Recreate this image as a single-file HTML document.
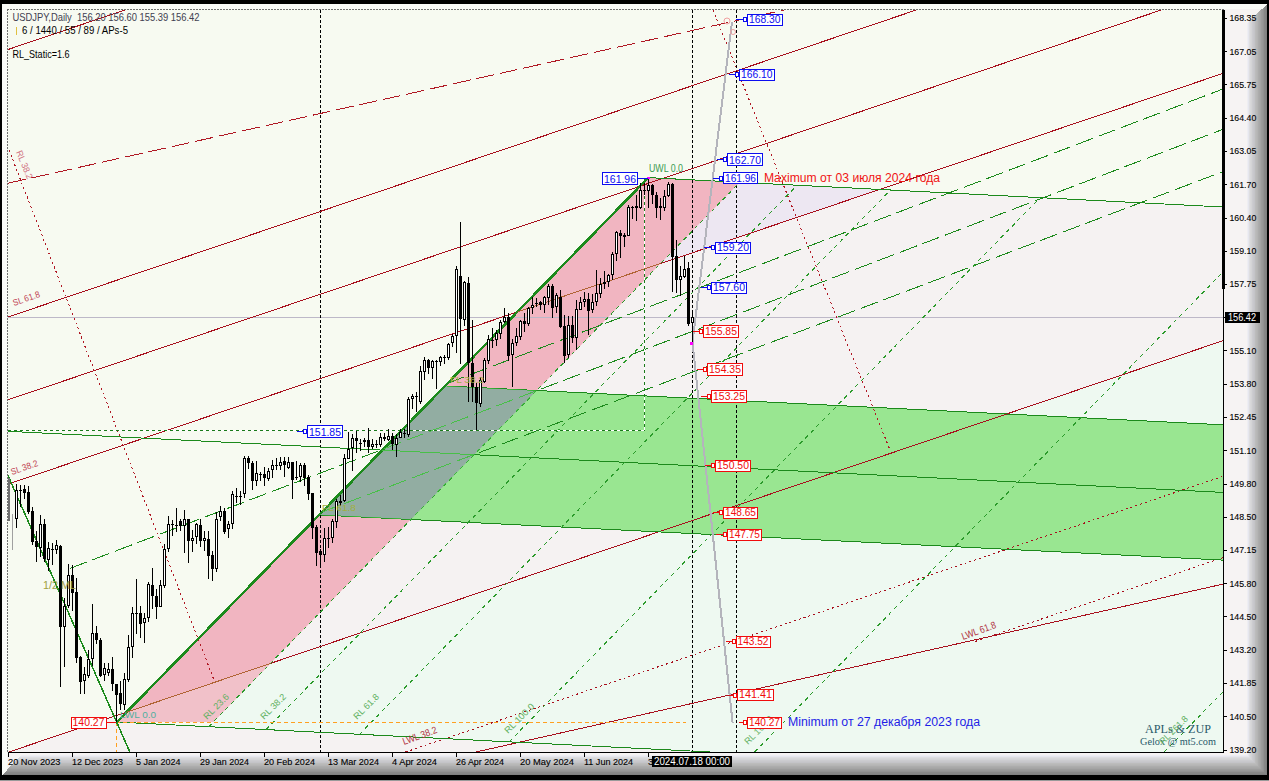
<!DOCTYPE html>
<html><head><meta charset="utf-8"><style>html,body{margin:0;padding:0;background:#f7faf1;width:1269px;height:781px;overflow:hidden}</style></head>
<body>
<svg width="1269" height="781" viewBox="0 0 1269 781" style="display:block"><defs>
<linearGradient id="gR" x1="0" y1="0" x2="1" y2="0">
<stop offset="0" stop-color="#f2f2f0"/><stop offset="0.25" stop-color="#d8d8da"/><stop offset="0.55" stop-color="#b4b4b8"/><stop offset="0.8" stop-color="#9c9c9e"/><stop offset="1" stop-color="#888888"/>
</linearGradient>
<linearGradient id="gB" x1="0" y1="0" x2="0" y2="1">
<stop offset="0" stop-color="#f0f2ee"/><stop offset="0.25" stop-color="#d4d4d6"/><stop offset="0.5" stop-color="#bcbcc4"/><stop offset="0.75" stop-color="#a0a0a0"/><stop offset="1" stop-color="#7c7c7c"/>
</linearGradient>
</defs><rect x="0" y="0" width="1269" height="781" fill="#f7faf1"/><polygon points="879.7,189.4 660.7,263.5 270.5,663.4 1223.0,340.7 1223.0,207.0 879.7,189.4" fill="#f5f2f2" />
<polygon points="270.5,663.4 208.7,726.7 710.1,752.0 1223.0,752.0 1223.0,340.7 270.5,663.4" fill="#eef9f1" />
<polygon points="710.1,752.0 116.0,722.0 116.0,752.0 710.1,752.0" fill="#f5f2f2" />
<polygon points="8.9,752.0 116.0,752.0 116.0,715.7 8.9,752.0" fill="#f5f2f2" />
<polygon points="879.7,189.4 739.8,182.3 660.7,263.5 879.7,189.4" fill="#ede7f2" />
<polygon points="117.0,722.0 213.3,722.0 739.8,182.3 648.4,177.6 117.0,722.0" fill="#f1b5c1" />
<polygon points="213.3,722.0 270.5,663.4 126.6,712.1 117.0,722.0 213.3,722.0" fill="#f1c1c9" />
<polygon points="445.0,385.9 319.2,514.9 1223.0,560.1 1223.0,424.8 445.0,385.9" fill="#99e691" />
<polygon points="319.2,514.9 410.9,519.5 536.7,390.5 445.0,385.9 319.2,514.9" fill="#92ada2" />
<g shape-rendering="crispEdges"><line x1="8.0" y1="317.5" x2="1223.0" y2="317.5" stroke="#bdb8c8" stroke-width="1" stroke-opacity="1"/>
<line x1="320.5" y1="10.0" x2="320.5" y2="752.0" stroke="#000000" stroke-width="1" stroke-dasharray="3,2" stroke-opacity="1"/>
<line x1="692.5" y1="10.0" x2="692.5" y2="752.0" stroke="#000000" stroke-width="1" stroke-dasharray="3,2" stroke-opacity="1"/>
<line x1="736.5" y1="10.0" x2="736.5" y2="752.0" stroke="#000000" stroke-width="1" stroke-dasharray="3,2" stroke-opacity="1"/>
<line x1="8.0" y1="49.5" x2="124.9" y2="10.0" stroke="#a8101e" stroke-width="1" stroke-opacity="1"/>
<line x1="8.0" y1="317.0" x2="916.3" y2="10.0" stroke="#a8101e" stroke-width="1" stroke-opacity="1"/>
<line x1="8.0" y1="399.8" x2="1161.3" y2="10.0" stroke="#a8101e" stroke-width="1" stroke-opacity="1"/>
<line x1="8.0" y1="484.1" x2="1223.0" y2="73.4" stroke="#a8101e" stroke-width="1" stroke-opacity="1"/>
<line x1="8.9" y1="752.0" x2="1223.0" y2="340.7" stroke="#a8101e" stroke-width="1" stroke-opacity="1"/>
<line x1="476.0" y1="752.0" x2="1223.0" y2="584.1" stroke="#a8101e" stroke-width="1" stroke-opacity="1"/>
<line x1="8.0" y1="183.2" x2="784.0" y2="10.0" stroke="#b01824" stroke-width="1" stroke-dasharray="18,6" stroke-opacity="1"/>
<line x1="405.6" y1="752.0" x2="1223.0" y2="476.3" stroke="#a8101e" stroke-width="1" stroke-dasharray="2,3" stroke-opacity="1"/>
<line x1="975.0" y1="641.5" x2="1223.0" y2="557.7" stroke="#a8101e" stroke-width="1" stroke-dasharray="2,3" stroke-opacity="1"/>
<line x1="9.0" y1="150.0" x2="214.0" y2="680.0" stroke="#b01824" stroke-width="1" stroke-dasharray="2,3" stroke-opacity="1"/>
<line x1="713.0" y1="10.0" x2="890.0" y2="450.0" stroke="#b01824" stroke-width="1" stroke-dasharray="2,3" stroke-opacity="1"/>
<line x1="8.0" y1="431.3" x2="1223.0" y2="492.4" stroke="#1c8a1c" stroke-width="1" stroke-opacity="1"/>
<line x1="445.0" y1="385.9" x2="1223.0" y2="424.8" stroke="#1c8a1c" stroke-width="1" stroke-opacity="1"/>
<line x1="319.0" y1="514.9" x2="1223.0" y2="560.1" stroke="#1c8a1c" stroke-width="1" stroke-opacity="1"/>
<line x1="648.0" y1="177.6" x2="1223.0" y2="207.0" stroke="#1c8a1c" stroke-width="1" stroke-opacity="1"/>
<line x1="116.0" y1="722.0" x2="710.1" y2="752.0" stroke="#1c8a1c" stroke-width="1" stroke-opacity="1"/>
<line x1="447.7" y1="383.2" x2="1223.0" y2="89.0" stroke="#1c8a1c" stroke-width="1" stroke-dasharray="18,6" stroke-opacity="1"/>
<line x1="70.0" y1="568.4" x2="1223.0" y2="129.3" stroke="#1c8a1c" stroke-width="1" stroke-dasharray="18,6" stroke-opacity="1"/>
<line x1="322.0" y1="512.0" x2="1223.0" y2="171.6" stroke="#1c8a1c" stroke-width="1" stroke-dasharray="18,6" stroke-opacity="1"/>
<line x1="208.7" y1="726.7" x2="739.8" y2="182.3" stroke="#2a9a2a" stroke-width="1" stroke-dasharray="4,4" stroke-opacity="1"/>
<line x1="266.1" y1="729.6" x2="797.2" y2="185.2" stroke="#2a9a2a" stroke-width="1" stroke-dasharray="4,4" stroke-opacity="1"/>
<line x1="359.5" y1="734.3" x2="890.5" y2="190.0" stroke="#2a9a2a" stroke-width="1" stroke-dasharray="4,4" stroke-opacity="1"/>
<line x1="509.1" y1="741.9" x2="1040.1" y2="197.6" stroke="#2a9a2a" stroke-width="1" stroke-dasharray="4,4" stroke-opacity="1"/>
<line x1="754.7" y1="752.0" x2="1223.0" y2="272.0" stroke="#2a9a2a" stroke-width="1" stroke-dasharray="4,4" stroke-opacity="1"/>
<line x1="1164.2" y1="752.0" x2="1223.0" y2="691.8" stroke="#2a9a2a" stroke-width="1" stroke-dasharray="4,4" stroke-opacity="1"/>
<line x1="8.0" y1="430.5" x2="645.0" y2="430.5" stroke="#ffffff" stroke-width="1" stroke-opacity="1"/>
<line x1="644.5" y1="178.0" x2="644.5" y2="431.0" stroke="#ffffff" stroke-width="1" stroke-opacity="1"/>
<line x1="8.0" y1="430.5" x2="645.0" y2="430.5" stroke="#1a7a1a" stroke-width="1" stroke-dasharray="3,3" stroke-opacity="1"/>
<line x1="644.5" y1="178.0" x2="644.5" y2="431.0" stroke="#1a7a1a" stroke-width="1" stroke-dasharray="3,3" stroke-opacity="1"/>
<line x1="116.0" y1="722.5" x2="686.0" y2="722.5" stroke="#ffa020" stroke-width="1" stroke-dasharray="4,3" stroke-opacity="1"/>
<line x1="116.5" y1="722.0" x2="116.5" y2="752.0" stroke="#ffa020" stroke-width="1" stroke-dasharray="4,3" stroke-opacity="1"/>
<line x1="8.0" y1="475.6" x2="129.8" y2="752.0" stroke="#1c8a1c" stroke-width="1.5" stroke-opacity="1"/>
<line x1="116.5" y1="722.5" x2="648.0" y2="178.0" stroke="#1c8a1c" stroke-width="2.5" stroke-opacity="1"/>
<line x1="692.5" y1="342.0" x2="732.0" y2="22.0" stroke="#b4b4bc" stroke-width="2" stroke-opacity="1"/>
<line x1="692.5" y1="342.0" x2="732.6" y2="722.8" stroke="#b4b4bc" stroke-width="2" stroke-opacity="1"/>
</g><clipPath id="cpPink"><polygon points="117.0,722.0 213.3,722.0 739.8,182.3 648.4,177.6 117.0,722.0"/></clipPath><clipPath id="cpOv"><polygon points="319.2,514.9 410.9,519.5 536.7,390.5 445.0,385.9 319.2,514.9"/></clipPath><g shape-rendering="crispEdges" clip-path="url(#cpOv)"><line x1="8.0" y1="431.3" x2="1223.0" y2="492.4" stroke="#48c048" stroke-width="1" stroke-opacity="1"/>
<line x1="445.0" y1="385.9" x2="1223.0" y2="424.8" stroke="#48c048" stroke-width="1" stroke-opacity="1"/>
<line x1="319.0" y1="514.9" x2="1223.0" y2="560.1" stroke="#48c048" stroke-width="1" stroke-opacity="1"/>
<line x1="648.0" y1="177.6" x2="1223.0" y2="207.0" stroke="#48c048" stroke-width="1" stroke-opacity="1"/>
<line x1="116.0" y1="722.0" x2="710.1" y2="752.0" stroke="#48c048" stroke-width="1" stroke-opacity="1"/>
<line x1="447.7" y1="383.2" x2="1223.0" y2="89.0" stroke="#48c048" stroke-width="1" stroke-dasharray="18,6" stroke-opacity="1"/>
<line x1="70.0" y1="568.4" x2="1223.0" y2="129.3" stroke="#48c048" stroke-width="1" stroke-dasharray="18,6" stroke-opacity="1"/>
<line x1="322.0" y1="512.0" x2="1223.0" y2="171.6" stroke="#48c048" stroke-width="1" stroke-dasharray="18,6" stroke-opacity="1"/>
<line x1="208.7" y1="726.7" x2="739.8" y2="182.3" stroke="#48c048" stroke-width="1" stroke-dasharray="4,4" stroke-opacity="1"/>
<line x1="266.1" y1="729.6" x2="797.2" y2="185.2" stroke="#48c048" stroke-width="1" stroke-dasharray="4,4" stroke-opacity="1"/>
<line x1="359.5" y1="734.3" x2="890.5" y2="190.0" stroke="#48c048" stroke-width="1" stroke-dasharray="4,4" stroke-opacity="1"/>
<line x1="509.1" y1="741.9" x2="1040.1" y2="197.6" stroke="#48c048" stroke-width="1" stroke-dasharray="4,4" stroke-opacity="1"/>
<line x1="754.7" y1="752.0" x2="1223.0" y2="272.0" stroke="#48c048" stroke-width="1" stroke-dasharray="4,4" stroke-opacity="1"/>
<line x1="1164.2" y1="752.0" x2="1223.0" y2="691.8" stroke="#48c048" stroke-width="1" stroke-dasharray="4,4" stroke-opacity="1"/>
<line x1="8.0" y1="475.6" x2="129.8" y2="752.0" stroke="#48c048" stroke-width="1.5" stroke-opacity="1"/>
</g><g shape-rendering="crispEdges" clip-path="url(#cpPink)"><line x1="8.0" y1="484.1" x2="1223.0" y2="73.4" stroke="#b06434" stroke-width="1" stroke-opacity="1"/>
<line x1="8.9" y1="752.0" x2="1223.0" y2="340.7" stroke="#b06434" stroke-width="1" stroke-opacity="1"/>
</g><g shape-rendering="crispEdges"><rect x="16" y="484" width="1" height="44" fill="#000"/><rect x="15" y="490" width="3" height="29" fill="#000"/><rect x="16" y="490" width="1" height="27" transform="translate(0,1)" fill="#fff"/><rect x="20" y="485" width="1" height="22" fill="#000"/><rect x="19" y="490" width="3" height="1" fill="#000"/><rect x="24" y="485" width="1" height="14" fill="#000"/><rect x="23" y="489" width="3" height="4" fill="#000"/><rect x="28" y="486" width="1" height="28" fill="#000"/><rect x="27" y="492" width="3" height="20" fill="#000"/><rect x="32" y="507" width="1" height="38" fill="#000"/><rect x="31" y="511" width="3" height="31" fill="#000"/><rect x="36" y="531" width="1" height="31" fill="#000"/><rect x="35" y="541" width="3" height="6" fill="#000"/><rect x="40" y="515" width="1" height="42" fill="#000"/><rect x="39" y="524" width="3" height="24" fill="#000"/><rect x="40" y="524" width="1" height="22" transform="translate(0,1)" fill="#fff"/><rect x="44" y="519" width="1" height="43" fill="#000"/><rect x="43" y="524" width="3" height="35" fill="#000"/><rect x="48" y="542" width="1" height="29" fill="#000"/><rect x="47" y="548" width="3" height="12" fill="#000"/><rect x="48" y="548" width="1" height="10" transform="translate(0,1)" fill="#fff"/><rect x="52" y="543" width="1" height="22" fill="#000"/><rect x="51" y="549" width="3" height="1" fill="#000"/><rect x="56" y="540" width="1" height="14" fill="#000"/><rect x="55" y="545" width="3" height="5" fill="#000"/><rect x="56" y="545" width="1" height="3" transform="translate(0,1)" fill="#fff"/><rect x="60" y="545" width="1" height="142" fill="#000"/><rect x="59" y="546" width="3" height="81" fill="#000"/><rect x="64" y="598" width="1" height="69" fill="#000"/><rect x="63" y="606" width="3" height="21" fill="#000"/><rect x="64" y="606" width="1" height="19" transform="translate(0,1)" fill="#fff"/><rect x="68" y="564" width="1" height="44" fill="#000"/><rect x="67" y="575" width="3" height="31" fill="#000"/><rect x="68" y="575" width="1" height="29" transform="translate(0,1)" fill="#fff"/><rect x="72" y="565" width="1" height="46" fill="#000"/><rect x="71" y="575" width="3" height="18" fill="#000"/><rect x="76" y="578" width="1" height="85" fill="#000"/><rect x="75" y="592" width="3" height="66" fill="#000"/><rect x="80" y="656" width="1" height="38" fill="#000"/><rect x="79" y="657" width="3" height="25" fill="#000"/><rect x="84" y="667" width="1" height="27" fill="#000"/><rect x="83" y="674" width="3" height="7" fill="#000"/><rect x="84" y="674" width="1" height="5" transform="translate(0,1)" fill="#fff"/><rect x="88" y="650" width="1" height="28" fill="#000"/><rect x="87" y="659" width="3" height="17" fill="#000"/><rect x="88" y="659" width="1" height="15" transform="translate(0,1)" fill="#fff"/><rect x="92" y="604" width="1" height="62" fill="#000"/><rect x="91" y="633" width="3" height="26" fill="#000"/><rect x="92" y="633" width="1" height="24" transform="translate(0,1)" fill="#fff"/><rect x="96" y="626" width="1" height="18" fill="#000"/><rect x="95" y="633" width="3" height="7" fill="#000"/><rect x="100" y="638" width="1" height="39" fill="#000"/><rect x="99" y="640" width="3" height="36" fill="#000"/><rect x="104" y="663" width="1" height="18" fill="#000"/><rect x="103" y="668" width="3" height="7" fill="#000"/><rect x="104" y="668" width="1" height="5" transform="translate(0,1)" fill="#fff"/><rect x="108" y="663" width="1" height="13" fill="#000"/><rect x="107" y="669" width="3" height="4" fill="#000"/><rect x="108" y="669" width="1" height="2" transform="translate(0,1)" fill="#fff"/><rect x="112" y="657" width="1" height="34" fill="#000"/><rect x="111" y="669" width="3" height="15" fill="#000"/><rect x="116" y="684" width="1" height="38" fill="#000"/><rect x="115" y="684" width="3" height="11" fill="#000"/><rect x="120" y="681" width="1" height="29" fill="#000"/><rect x="119" y="693" width="3" height="11" fill="#000"/><rect x="124" y="673" width="1" height="37" fill="#000"/><rect x="123" y="679" width="3" height="26" fill="#000"/><rect x="124" y="679" width="1" height="24" transform="translate(0,1)" fill="#fff"/><rect x="128" y="635" width="1" height="47" fill="#000"/><rect x="127" y="647" width="3" height="33" fill="#000"/><rect x="128" y="647" width="1" height="31" transform="translate(0,1)" fill="#fff"/><rect x="132" y="607" width="1" height="51" fill="#000"/><rect x="131" y="613" width="3" height="34" fill="#000"/><rect x="132" y="613" width="1" height="32" transform="translate(0,1)" fill="#fff"/><rect x="136" y="579" width="1" height="55" fill="#000"/><rect x="135" y="613" width="3" height="1" fill="#000"/><rect x="140" y="606" width="1" height="32" fill="#000"/><rect x="139" y="613" width="3" height="11" fill="#000"/><rect x="144" y="613" width="1" height="30" fill="#000"/><rect x="143" y="618" width="3" height="5" fill="#000"/><rect x="144" y="618" width="1" height="3" transform="translate(0,1)" fill="#fff"/><rect x="148" y="582" width="1" height="40" fill="#000"/><rect x="147" y="584" width="3" height="34" fill="#000"/><rect x="148" y="584" width="1" height="32" transform="translate(0,1)" fill="#fff"/><rect x="152" y="568" width="1" height="41" fill="#000"/><rect x="151" y="585" width="3" height="11" fill="#000"/><rect x="156" y="589" width="1" height="30" fill="#000"/><rect x="155" y="596" width="3" height="11" fill="#000"/><rect x="160" y="580" width="1" height="26" fill="#000"/><rect x="159" y="585" width="3" height="22" fill="#000"/><rect x="160" y="585" width="1" height="20" transform="translate(0,1)" fill="#fff"/><rect x="164" y="544" width="1" height="44" fill="#000"/><rect x="163" y="549" width="3" height="37" fill="#000"/><rect x="164" y="549" width="1" height="35" transform="translate(0,1)" fill="#fff"/><rect x="168" y="516" width="1" height="36" fill="#000"/><rect x="167" y="524" width="3" height="25" fill="#000"/><rect x="168" y="524" width="1" height="23" transform="translate(0,1)" fill="#fff"/><rect x="172" y="520" width="1" height="16" fill="#000"/><rect x="171" y="524" width="3" height="1" fill="#000"/><rect x="176" y="508" width="1" height="24" fill="#000"/><rect x="175" y="525" width="3" height="1" fill="#000"/><rect x="180" y="519" width="1" height="12" fill="#000"/><rect x="179" y="521" width="3" height="5" fill="#000"/><rect x="184" y="510" width="1" height="43" fill="#000"/><rect x="183" y="519" width="3" height="7" fill="#000"/><rect x="184" y="519" width="1" height="5" transform="translate(0,1)" fill="#fff"/><rect x="188" y="519" width="1" height="44" fill="#000"/><rect x="187" y="519" width="3" height="22" fill="#000"/><rect x="192" y="530" width="1" height="22" fill="#000"/><rect x="191" y="538" width="3" height="3" fill="#000"/><rect x="192" y="538" width="1" height="1" transform="translate(0,1)" fill="#fff"/><rect x="196" y="523" width="1" height="21" fill="#000"/><rect x="195" y="524" width="3" height="13" fill="#000"/><rect x="196" y="524" width="1" height="11" transform="translate(0,1)" fill="#fff"/><rect x="200" y="519" width="1" height="28" fill="#000"/><rect x="199" y="525" width="3" height="16" fill="#000"/><rect x="204" y="531" width="1" height="20" fill="#000"/><rect x="203" y="538" width="3" height="3" fill="#000"/><rect x="204" y="538" width="1" height="1" transform="translate(0,1)" fill="#fff"/><rect x="208" y="531" width="1" height="48" fill="#000"/><rect x="207" y="539" width="3" height="17" fill="#000"/><rect x="212" y="551" width="1" height="30" fill="#000"/><rect x="211" y="555" width="3" height="14" fill="#000"/><rect x="216" y="512" width="1" height="60" fill="#000"/><rect x="215" y="519" width="3" height="50" fill="#000"/><rect x="216" y="519" width="1" height="48" transform="translate(0,1)" fill="#fff"/><rect x="220" y="506" width="1" height="15" fill="#000"/><rect x="219" y="511" width="3" height="6" fill="#000"/><rect x="220" y="511" width="1" height="4" transform="translate(0,1)" fill="#fff"/><rect x="224" y="508" width="1" height="26" fill="#000"/><rect x="223" y="511" width="3" height="21" fill="#000"/><rect x="228" y="521" width="1" height="17" fill="#000"/><rect x="227" y="524" width="3" height="5" fill="#000"/><rect x="228" y="524" width="1" height="3" transform="translate(0,1)" fill="#fff"/><rect x="232" y="491" width="1" height="38" fill="#000"/><rect x="231" y="494" width="3" height="30" fill="#000"/><rect x="232" y="494" width="1" height="28" transform="translate(0,1)" fill="#fff"/><rect x="236" y="488" width="1" height="15" fill="#000"/><rect x="235" y="496" width="3" height="1" fill="#000"/><rect x="240" y="491" width="1" height="14" fill="#000"/><rect x="239" y="496" width="3" height="1" fill="#000"/><rect x="244" y="456" width="1" height="42" fill="#000"/><rect x="243" y="458" width="3" height="36" fill="#000"/><rect x="244" y="458" width="1" height="34" transform="translate(0,1)" fill="#fff"/><rect x="248" y="456" width="1" height="13" fill="#000"/><rect x="247" y="458" width="3" height="5" fill="#000"/><rect x="252" y="461" width="1" height="29" fill="#000"/><rect x="251" y="463" width="3" height="18" fill="#000"/><rect x="256" y="461" width="1" height="25" fill="#000"/><rect x="255" y="473" width="3" height="8" fill="#000"/><rect x="256" y="473" width="1" height="6" transform="translate(0,1)" fill="#fff"/><rect x="260" y="472" width="1" height="9" fill="#000"/><rect x="259" y="474" width="3" height="1" fill="#000"/><rect x="264" y="467" width="1" height="19" fill="#000"/><rect x="263" y="474" width="3" height="4" fill="#000"/><rect x="268" y="468" width="1" height="13" fill="#000"/><rect x="267" y="471" width="3" height="8" fill="#000"/><rect x="268" y="471" width="1" height="6" transform="translate(0,1)" fill="#fff"/><rect x="272" y="460" width="1" height="18" fill="#000"/><rect x="271" y="465" width="3" height="5" fill="#000"/><rect x="272" y="465" width="1" height="3" transform="translate(0,1)" fill="#fff"/><rect x="276" y="458" width="1" height="12" fill="#000"/><rect x="275" y="465" width="3" height="1" fill="#000"/><rect x="280" y="457" width="1" height="13" fill="#000"/><rect x="279" y="462" width="3" height="4" fill="#000"/><rect x="280" y="462" width="1" height="2" transform="translate(0,1)" fill="#fff"/><rect x="284" y="457" width="1" height="20" fill="#000"/><rect x="283" y="461" width="3" height="4" fill="#000"/><rect x="288" y="457" width="1" height="12" fill="#000"/><rect x="287" y="462" width="3" height="6" fill="#000"/><rect x="288" y="462" width="1" height="4" transform="translate(0,1)" fill="#fff"/><rect x="292" y="462" width="1" height="37" fill="#000"/><rect x="291" y="462" width="3" height="18" fill="#000"/><rect x="296" y="461" width="1" height="19" fill="#000"/><rect x="295" y="477" width="3" height="1" fill="#000"/><rect x="300" y="463" width="1" height="19" fill="#000"/><rect x="299" y="465" width="3" height="12" fill="#000"/><rect x="300" y="465" width="1" height="10" transform="translate(0,1)" fill="#fff"/><rect x="304" y="463" width="1" height="23" fill="#000"/><rect x="303" y="465" width="3" height="13" fill="#000"/><rect x="308" y="475" width="1" height="25" fill="#000"/><rect x="307" y="477" width="3" height="17" fill="#000"/><rect x="312" y="493" width="1" height="46" fill="#000"/><rect x="311" y="493" width="3" height="35" fill="#000"/><rect x="316" y="525" width="1" height="41" fill="#000"/><rect x="315" y="527" width="3" height="26" fill="#000"/><rect x="320" y="549" width="1" height="17" fill="#000"/><rect x="319" y="551" width="3" height="4" fill="#000"/><rect x="324" y="528" width="1" height="34" fill="#000"/><rect x="323" y="538" width="3" height="17" fill="#000"/><rect x="324" y="538" width="1" height="15" transform="translate(0,1)" fill="#fff"/><rect x="328" y="527" width="1" height="21" fill="#000"/><rect x="327" y="538" width="3" height="1" fill="#000"/><rect x="332" y="519" width="1" height="24" fill="#000"/><rect x="331" y="521" width="3" height="17" fill="#000"/><rect x="332" y="521" width="1" height="15" transform="translate(0,1)" fill="#fff"/><rect x="336" y="499" width="1" height="29" fill="#000"/><rect x="335" y="501" width="3" height="21" fill="#000"/><rect x="336" y="501" width="1" height="19" transform="translate(0,1)" fill="#fff"/><rect x="340" y="495" width="1" height="11" fill="#000"/><rect x="339" y="501" width="3" height="2" fill="#000"/><rect x="344" y="454" width="1" height="48" fill="#000"/><rect x="343" y="458" width="3" height="43" fill="#000"/><rect x="344" y="458" width="1" height="41" transform="translate(0,1)" fill="#fff"/><rect x="348" y="432" width="1" height="27" fill="#000"/><rect x="347" y="449" width="3" height="10" fill="#000"/><rect x="348" y="449" width="1" height="8" transform="translate(0,1)" fill="#fff"/><rect x="352" y="434" width="1" height="37" fill="#000"/><rect x="351" y="438" width="3" height="10" fill="#000"/><rect x="352" y="438" width="1" height="8" transform="translate(0,1)" fill="#fff"/><rect x="356" y="431" width="1" height="22" fill="#000"/><rect x="355" y="438" width="3" height="3" fill="#000"/><rect x="360" y="439" width="1" height="12" fill="#000"/><rect x="359" y="443" width="3" height="1" fill="#000"/><rect x="364" y="438" width="1" height="9" fill="#000"/><rect x="363" y="440" width="3" height="2" fill="#000"/><rect x="368" y="428" width="1" height="25" fill="#000"/><rect x="367" y="440" width="3" height="7" fill="#000"/><rect x="372" y="439" width="1" height="10" fill="#000"/><rect x="371" y="444" width="3" height="3" fill="#000"/><rect x="372" y="444" width="1" height="1" transform="translate(0,1)" fill="#fff"/><rect x="376" y="440" width="1" height="8" fill="#000"/><rect x="375" y="444" width="3" height="1" fill="#000"/><rect x="380" y="433" width="1" height="14" fill="#000"/><rect x="379" y="437" width="3" height="8" fill="#000"/><rect x="380" y="437" width="1" height="6" transform="translate(0,1)" fill="#fff"/><rect x="384" y="433" width="1" height="8" fill="#000"/><rect x="383" y="437" width="3" height="2" fill="#000"/><rect x="388" y="429" width="1" height="12" fill="#000"/><rect x="387" y="436" width="3" height="4" fill="#000"/><rect x="388" y="436" width="1" height="2" transform="translate(0,1)" fill="#fff"/><rect x="392" y="433" width="1" height="17" fill="#000"/><rect x="391" y="436" width="3" height="8" fill="#000"/><rect x="396" y="434" width="1" height="23" fill="#000"/><rect x="395" y="438" width="3" height="7" fill="#000"/><rect x="396" y="438" width="1" height="5" transform="translate(0,1)" fill="#fff"/><rect x="400" y="429" width="1" height="9" fill="#000"/><rect x="399" y="432" width="3" height="6" fill="#000"/><rect x="400" y="432" width="1" height="4" transform="translate(0,1)" fill="#fff"/><rect x="404" y="429" width="1" height="9" fill="#000"/><rect x="403" y="433" width="3" height="1" fill="#000"/><rect x="408" y="397" width="1" height="40" fill="#000"/><rect x="407" y="399" width="3" height="36" fill="#000"/><rect x="408" y="399" width="1" height="34" transform="translate(0,1)" fill="#fff"/><rect x="412" y="394" width="1" height="15" fill="#000"/><rect x="411" y="396" width="3" height="3" fill="#000"/><rect x="412" y="396" width="1" height="1" transform="translate(0,1)" fill="#fff"/><rect x="416" y="392" width="1" height="20" fill="#000"/><rect x="415" y="396" width="3" height="1" fill="#000"/><rect x="420" y="366" width="1" height="38" fill="#000"/><rect x="419" y="371" width="3" height="31" fill="#000"/><rect x="420" y="371" width="1" height="29" transform="translate(0,1)" fill="#fff"/><rect x="424" y="357" width="1" height="23" fill="#000"/><rect x="423" y="360" width="3" height="12" fill="#000"/><rect x="424" y="360" width="1" height="10" transform="translate(0,1)" fill="#fff"/><rect x="428" y="359" width="1" height="15" fill="#000"/><rect x="427" y="360" width="3" height="8" fill="#000"/><rect x="432" y="360" width="1" height="19" fill="#000"/><rect x="431" y="361" width="3" height="7" fill="#000"/><rect x="432" y="361" width="1" height="5" transform="translate(0,1)" fill="#fff"/><rect x="436" y="360" width="1" height="29" fill="#000"/><rect x="435" y="361" width="3" height="1" fill="#000"/><rect x="440" y="356" width="1" height="10" fill="#000"/><rect x="439" y="357" width="3" height="5" fill="#000"/><rect x="440" y="357" width="1" height="3" transform="translate(0,1)" fill="#fff"/><rect x="444" y="355" width="1" height="9" fill="#000"/><rect x="443" y="357" width="3" height="1" fill="#000"/><rect x="448" y="343" width="1" height="17" fill="#000"/><rect x="447" y="344" width="3" height="14" fill="#000"/><rect x="448" y="344" width="1" height="12" transform="translate(0,1)" fill="#fff"/><rect x="452" y="334" width="1" height="13" fill="#000"/><rect x="451" y="336" width="3" height="7" fill="#000"/><rect x="452" y="336" width="1" height="5" transform="translate(0,1)" fill="#fff"/><rect x="456" y="266" width="1" height="87" fill="#000"/><rect x="455" y="269" width="3" height="67" fill="#000"/><rect x="456" y="269" width="1" height="65" transform="translate(0,1)" fill="#fff"/><rect x="460" y="222" width="1" height="142" fill="#000"/><rect x="459" y="276" width="3" height="43" fill="#000"/><rect x="464" y="281" width="1" height="45" fill="#000"/><rect x="463" y="282" width="3" height="38" fill="#000"/><rect x="464" y="282" width="1" height="36" transform="translate(0,1)" fill="#fff"/><rect x="468" y="277" width="1" height="125" fill="#000"/><rect x="467" y="283" width="3" height="80" fill="#000"/><rect x="472" y="320" width="1" height="82" fill="#000"/><rect x="471" y="363" width="3" height="24" fill="#000"/><rect x="476" y="383" width="1" height="47" fill="#000"/><rect x="475" y="387" width="3" height="16" fill="#000"/><rect x="480" y="377" width="1" height="30" fill="#000"/><rect x="479" y="380" width="3" height="24" fill="#000"/><rect x="480" y="380" width="1" height="22" transform="translate(0,1)" fill="#fff"/><rect x="484" y="358" width="1" height="25" fill="#000"/><rect x="483" y="360" width="3" height="22" fill="#000"/><rect x="484" y="360" width="1" height="20" transform="translate(0,1)" fill="#fff"/><rect x="488" y="335" width="1" height="29" fill="#000"/><rect x="487" y="339" width="3" height="22" fill="#000"/><rect x="488" y="339" width="1" height="20" transform="translate(0,1)" fill="#fff"/><rect x="492" y="328" width="1" height="20" fill="#000"/><rect x="491" y="340" width="3" height="1" fill="#000"/><rect x="496" y="330" width="1" height="16" fill="#000"/><rect x="495" y="333" width="3" height="7" fill="#000"/><rect x="496" y="333" width="1" height="5" transform="translate(0,1)" fill="#fff"/><rect x="500" y="320" width="1" height="19" fill="#000"/><rect x="499" y="322" width="3" height="12" fill="#000"/><rect x="500" y="322" width="1" height="10" transform="translate(0,1)" fill="#fff"/><rect x="504" y="308" width="1" height="15" fill="#000"/><rect x="503" y="317" width="3" height="5" fill="#000"/><rect x="504" y="317" width="1" height="3" transform="translate(0,1)" fill="#fff"/><rect x="508" y="313" width="1" height="48" fill="#000"/><rect x="507" y="317" width="3" height="39" fill="#000"/><rect x="512" y="339" width="1" height="48" fill="#000"/><rect x="511" y="343" width="3" height="12" fill="#000"/><rect x="512" y="343" width="1" height="10" transform="translate(0,1)" fill="#fff"/><rect x="516" y="328" width="1" height="18" fill="#000"/><rect x="515" y="336" width="3" height="7" fill="#000"/><rect x="516" y="336" width="1" height="5" transform="translate(0,1)" fill="#fff"/><rect x="520" y="320" width="1" height="20" fill="#000"/><rect x="519" y="321" width="3" height="16" fill="#000"/><rect x="520" y="321" width="1" height="14" transform="translate(0,1)" fill="#fff"/><rect x="524" y="313" width="1" height="19" fill="#000"/><rect x="523" y="321" width="3" height="3" fill="#000"/><rect x="528" y="307" width="1" height="19" fill="#000"/><rect x="527" y="308" width="3" height="16" fill="#000"/><rect x="528" y="308" width="1" height="14" transform="translate(0,1)" fill="#fff"/><rect x="532" y="297" width="1" height="17" fill="#000"/><rect x="531" y="305" width="3" height="3" fill="#000"/><rect x="532" y="305" width="1" height="1" transform="translate(0,1)" fill="#fff"/><rect x="536" y="298" width="1" height="9" fill="#000"/><rect x="535" y="303" width="3" height="1" fill="#000"/><rect x="540" y="301" width="1" height="9" fill="#000"/><rect x="539" y="302" width="3" height="3" fill="#000"/><rect x="544" y="296" width="1" height="17" fill="#000"/><rect x="543" y="297" width="3" height="8" fill="#000"/><rect x="544" y="297" width="1" height="6" transform="translate(0,1)" fill="#fff"/><rect x="548" y="284" width="1" height="21" fill="#000"/><rect x="547" y="286" width="3" height="12" fill="#000"/><rect x="548" y="286" width="1" height="10" transform="translate(0,1)" fill="#fff"/><rect x="552" y="284" width="1" height="34" fill="#000"/><rect x="551" y="286" width="3" height="22" fill="#000"/><rect x="556" y="293" width="1" height="20" fill="#000"/><rect x="555" y="295" width="3" height="12" fill="#000"/><rect x="556" y="295" width="1" height="10" transform="translate(0,1)" fill="#fff"/><rect x="560" y="290" width="1" height="38" fill="#000"/><rect x="559" y="297" width="3" height="30" fill="#000"/><rect x="564" y="315" width="1" height="48" fill="#000"/><rect x="563" y="326" width="3" height="30" fill="#000"/><rect x="568" y="316" width="1" height="42" fill="#000"/><rect x="567" y="325" width="3" height="30" fill="#000"/><rect x="568" y="325" width="1" height="28" transform="translate(0,1)" fill="#fff"/><rect x="572" y="316" width="1" height="27" fill="#000"/><rect x="571" y="325" width="3" height="13" fill="#000"/><rect x="576" y="300" width="1" height="50" fill="#000"/><rect x="575" y="309" width="3" height="29" fill="#000"/><rect x="576" y="309" width="1" height="27" transform="translate(0,1)" fill="#fff"/><rect x="580" y="297" width="1" height="13" fill="#000"/><rect x="579" y="302" width="3" height="8" fill="#000"/><rect x="580" y="302" width="1" height="6" transform="translate(0,1)" fill="#fff"/><rect x="584" y="292" width="1" height="15" fill="#000"/><rect x="583" y="299" width="3" height="3" fill="#000"/><rect x="584" y="299" width="1" height="1" transform="translate(0,1)" fill="#fff"/><rect x="588" y="293" width="1" height="42" fill="#000"/><rect x="587" y="299" width="3" height="12" fill="#000"/><rect x="592" y="294" width="1" height="19" fill="#000"/><rect x="591" y="302" width="3" height="8" fill="#000"/><rect x="592" y="302" width="1" height="6" transform="translate(0,1)" fill="#fff"/><rect x="596" y="270" width="1" height="36" fill="#000"/><rect x="595" y="293" width="3" height="9" fill="#000"/><rect x="596" y="293" width="1" height="7" transform="translate(0,1)" fill="#fff"/><rect x="600" y="278" width="1" height="20" fill="#000"/><rect x="599" y="284" width="3" height="10" fill="#000"/><rect x="600" y="284" width="1" height="8" transform="translate(0,1)" fill="#fff"/><rect x="604" y="271" width="1" height="18" fill="#000"/><rect x="603" y="282" width="3" height="2" fill="#000"/><rect x="608" y="274" width="1" height="13" fill="#000"/><rect x="607" y="275" width="3" height="7" fill="#000"/><rect x="608" y="275" width="1" height="5" transform="translate(0,1)" fill="#fff"/><rect x="612" y="252" width="1" height="28" fill="#000"/><rect x="611" y="254" width="3" height="21" fill="#000"/><rect x="612" y="254" width="1" height="19" transform="translate(0,1)" fill="#fff"/><rect x="616" y="231" width="1" height="30" fill="#000"/><rect x="615" y="232" width="3" height="22" fill="#000"/><rect x="616" y="232" width="1" height="20" transform="translate(0,1)" fill="#fff"/><rect x="620" y="230" width="1" height="28" fill="#000"/><rect x="619" y="233" width="3" height="3" fill="#000"/><rect x="624" y="233" width="1" height="14" fill="#000"/><rect x="623" y="235" width="3" height="2" fill="#000"/><rect x="628" y="205" width="1" height="31" fill="#000"/><rect x="627" y="207" width="3" height="29" fill="#000"/><rect x="628" y="207" width="1" height="27" transform="translate(0,1)" fill="#fff"/><rect x="632" y="206" width="1" height="13" fill="#000"/><rect x="631" y="207" width="3" height="1" fill="#000"/><rect x="636" y="195" width="1" height="26" fill="#000"/><rect x="635" y="206" width="3" height="2" fill="#000"/><rect x="640" y="183" width="1" height="26" fill="#000"/><rect x="639" y="190" width="3" height="18" fill="#000"/><rect x="640" y="190" width="1" height="16" transform="translate(0,1)" fill="#fff"/><rect x="644" y="183" width="1" height="12" fill="#000"/><rect x="643" y="190" width="3" height="1" fill="#000"/><rect x="648" y="178" width="1" height="30" fill="#000"/><rect x="647" y="185" width="3" height="6" fill="#000"/><rect x="648" y="185" width="1" height="4" transform="translate(0,1)" fill="#fff"/><rect x="652" y="184" width="1" height="20" fill="#000"/><rect x="651" y="185" width="3" height="10" fill="#000"/><rect x="656" y="192" width="1" height="26" fill="#000"/><rect x="655" y="195" width="3" height="13" fill="#000"/><rect x="660" y="198" width="1" height="22" fill="#000"/><rect x="659" y="206" width="3" height="2" fill="#000"/><rect x="664" y="190" width="1" height="21" fill="#000"/><rect x="663" y="196" width="3" height="12" fill="#000"/><rect x="664" y="196" width="1" height="10" transform="translate(0,1)" fill="#fff"/><rect x="668" y="182" width="1" height="15" fill="#000"/><rect x="667" y="184" width="3" height="12" fill="#000"/><rect x="668" y="184" width="1" height="10" transform="translate(0,1)" fill="#fff"/><rect x="672" y="183" width="1" height="109" fill="#000"/><rect x="671" y="184" width="3" height="73" fill="#000"/><rect x="676" y="240" width="1" height="53" fill="#000"/><rect x="675" y="256" width="3" height="24" fill="#000"/><rect x="680" y="266" width="1" height="30" fill="#000"/><rect x="679" y="276" width="3" height="4" fill="#000"/><rect x="680" y="276" width="1" height="2" transform="translate(0,1)" fill="#fff"/><rect x="684" y="256" width="1" height="22" fill="#000"/><rect x="683" y="269" width="3" height="8" fill="#000"/><rect x="684" y="269" width="1" height="6" transform="translate(0,1)" fill="#fff"/><rect x="688" y="262" width="1" height="64" fill="#000"/><rect x="687" y="268" width="3" height="56" fill="#000"/><rect x="692" y="313" width="1" height="30" fill="#000"/><rect x="691" y="317" width="3" height="6" fill="#000"/><rect x="692" y="317" width="1" height="4" transform="translate(0,1)" fill="#fff"/><rect x="8" y="478" width="2" height="43" fill="#707070"/><rect x="12" y="514" width="1" height="36" fill="#a0a0a0"/></g><text x="764" y="182" font-family="Liberation Sans, sans-serif" font-size="12.5" fill="#f01414" textLength="176" lengthAdjust="spacingAndGlyphs" >Maximum от 03 июля 2024 года</text>
<text x="788" y="726" font-family="Liberation Sans, sans-serif" font-size="12.5" fill="#1e1ee6" textLength="192" lengthAdjust="spacingAndGlyphs" >Minimum от 27 декабря 2023 года</text>
<text x="12.5" y="21" font-family="Liberation Sans, sans-serif" font-size="10.2" fill="#404050" textLength="187" lengthAdjust="spacingAndGlyphs" >USDJPY,Daily&#160;&#160;156.20 156.60 155.39 156.42</text>
<rect x="16" y="27" width="1" height="8" fill="#e0c040"/><text x="22" y="33.5" font-family="Liberation Sans, sans-serif" font-size="10.2" fill="#000" textLength="106" lengthAdjust="spacingAndGlyphs" >6 / 1440 / 55 / 89 / APs-5</text>
<text x="12.5" y="57.5" font-family="Liberation Sans, sans-serif" font-size="10.2" fill="#000" textLength="57" lengthAdjust="spacingAndGlyphs" >RL_Static=1.6</text>
<text x="649" y="171.5" font-family="Liberation Sans, sans-serif" font-size="10" fill="#3a9a50" textLength="34" lengthAdjust="spacingAndGlyphs" >UWL 0.0</text>
<text x="120" y="718" font-family="Liberation Sans, sans-serif" font-size="9" fill="#50b0a0" textLength="36" lengthAdjust="spacingAndGlyphs" >LWL 0.0</text>
<text x="1145" y="732.5"  font-size="12.5" fill="#2a5a6a" textLength="66" lengthAdjust="spacingAndGlyphs" font-family="Liberation Serif, serif">APLs &amp; ZUP</text>
<text x="1140" y="745"  font-size="10.5" fill="#2a5a6a" textLength="76" lengthAdjust="spacingAndGlyphs" font-family="Liberation Serif, serif">Gelox @ mt5.com</text>
<text x="0" y="0" transform="translate(14,306) rotate(-19)" font-family="Liberation Sans, sans-serif" font-size="9" fill="#c04050" textLength="28" lengthAdjust="spacingAndGlyphs">SL 61.8</text>
<text x="0" y="0" transform="translate(12,475) rotate(-19)" font-family="Liberation Sans, sans-serif" font-size="9" fill="#c04050" textLength="28" lengthAdjust="spacingAndGlyphs">SL 38.2</text>
<text x="0" y="0" transform="translate(16,152) rotate(68)" font-family="Liberation Sans, sans-serif" font-size="9" fill="#d07080" textLength="30" lengthAdjust="spacingAndGlyphs">RL 38.2</text>
<text x="0" y="0" transform="translate(404,745) rotate(-20)" font-family="Liberation Sans, sans-serif" font-size="10" fill="#b03040" textLength="36" lengthAdjust="spacingAndGlyphs">LWL 38.2</text>
<text x="0" y="0" transform="translate(963,640) rotate(-20)" font-family="Liberation Sans, sans-serif" font-size="10" fill="#b03040" textLength="36" lengthAdjust="spacingAndGlyphs">LWL 61.8</text>
<text x="0" y="0" transform="translate(207,720) rotate(-45)" font-family="Liberation Sans, sans-serif" font-size="9" fill="#60b060" textLength="32" lengthAdjust="spacingAndGlyphs">RL 23.6</text>
<text x="0" y="0" transform="translate(264,720) rotate(-45)" font-family="Liberation Sans, sans-serif" font-size="9" fill="#60b060" textLength="32" lengthAdjust="spacingAndGlyphs">RL 38.2</text>
<text x="0" y="0" transform="translate(357,720) rotate(-45)" font-family="Liberation Sans, sans-serif" font-size="9" fill="#60b060" textLength="32" lengthAdjust="spacingAndGlyphs">RL 61.8</text>
<text x="0" y="0" transform="translate(508,734) rotate(-45)" font-family="Liberation Sans, sans-serif" font-size="9" fill="#60b060" textLength="38" lengthAdjust="spacingAndGlyphs">RL 100.0</text>
<text x="0" y="0" transform="translate(748,745) rotate(-45)" font-family="Liberation Sans, sans-serif" font-size="9" fill="#60b060" textLength="36" lengthAdjust="spacingAndGlyphs">RL 161.8</text>
<text x="0" y="0" transform="translate(1163,745) rotate(-45)" font-family="Liberation Sans, sans-serif" font-size="9" fill="#60b060" textLength="36" lengthAdjust="spacingAndGlyphs">RL 261.8</text>
<text x="43" y="589" font-family="Liberation Sans, sans-serif" font-size="10" fill="#a0a040" textLength="33" lengthAdjust="spacingAndGlyphs" >1/2 ML</text>
<text x="322" y="511" font-family="Liberation Sans, sans-serif" font-size="9" fill="#a0b040" textLength="34" lengthAdjust="spacingAndGlyphs" >FL 61.8</text>
<text x="450" y="383" font-family="Liberation Sans, sans-serif" font-size="9" fill="#a0b040" textLength="34" lengthAdjust="spacingAndGlyphs" >FL 38.2</text>
<rect x="647" y="177" width="3" height="2" fill="#ff00ff"/><rect x="690" y="342" width="3" height="3" fill="#ff00ff"/><circle cx="727" cy="21" r="3" fill="none" stroke="#f0a0a0" stroke-width="1"/><circle cx="733" cy="32" r="2.5" fill="none" stroke="#f0a0a0" stroke-width="1"/><g shape-rendering="crispEdges"><line x1="736.0" y1="19.5" x2="747.0" y2="19.5" stroke="#0c0cf0" stroke-width="1"/><rect x="743.5" y="17.5" width="3" height="4" fill="#fff" stroke="#0c0cf0" stroke-width="1"/><rect x="747.5" y="14.0" width="34.5" height="11.0" fill="#fff" stroke="#0c0cf0" stroke-width="1"/><text x="749.0" y="23.0" font-family="Liberation Sans, sans-serif" font-size="11" fill="#0c0cf0" textLength="31.5" lengthAdjust="spacingAndGlyphs">168.30</text>
<line x1="729.0" y1="74.5" x2="739.0" y2="74.5" stroke="#0c0cf0" stroke-width="1"/><rect x="735.5" y="72.5" width="3" height="4" fill="#fff" stroke="#0c0cf0" stroke-width="1"/><rect x="739.5" y="69.0" width="34.5" height="11.0" fill="#fff" stroke="#0c0cf0" stroke-width="1"/><text x="741.0" y="78.0" font-family="Liberation Sans, sans-serif" font-size="11" fill="#0c0cf0" textLength="31.5" lengthAdjust="spacingAndGlyphs">166.10</text>
<line x1="717.0" y1="159.5" x2="727.0" y2="159.5" stroke="#0c0cf0" stroke-width="1"/><rect x="723.5" y="157.5" width="3" height="4" fill="#fff" stroke="#0c0cf0" stroke-width="1"/><rect x="727.5" y="153.5" width="35.0" height="12.0" fill="#fff" stroke="#0c0cf0" stroke-width="1"/><text x="729.0" y="163.5" font-family="Liberation Sans, sans-serif" font-size="11" fill="#0c0cf0" textLength="32.0" lengthAdjust="spacingAndGlyphs">162.70</text>
<line x1="713.0" y1="178.5" x2="723.0" y2="178.5" stroke="#0c0cf0" stroke-width="1"/><rect x="719.5" y="176.5" width="3" height="4" fill="#fff" stroke="#0c0cf0" stroke-width="1"/><rect x="723.5" y="172.5" width="34.0" height="11.0" fill="#fff" stroke="#0c0cf0" stroke-width="1"/><text x="725.0" y="181.5" font-family="Liberation Sans, sans-serif" font-size="11" fill="#0c0cf0" textLength="31.0" lengthAdjust="spacingAndGlyphs">161.96</text>
<line x1="638.0" y1="178.5" x2="648.0" y2="178.5" stroke="#0c0cf0" stroke-width="1"/><rect x="602.5" y="172.5" width="35.0" height="12.0" fill="#fff" stroke="#0c0cf0" stroke-width="1"/><text x="604.0" y="182.5" font-family="Liberation Sans, sans-serif" font-size="11" fill="#0c0cf0" textLength="32.0" lengthAdjust="spacingAndGlyphs">161.96</text>
<line x1="704.0" y1="247.5" x2="715.0" y2="247.5" stroke="#0c0cf0" stroke-width="1"/><rect x="711.5" y="245.5" width="3" height="4" fill="#fff" stroke="#0c0cf0" stroke-width="1"/><rect x="715.5" y="242.0" width="35.0" height="11.0" fill="#fff" stroke="#0c0cf0" stroke-width="1"/><text x="717.0" y="251.0" font-family="Liberation Sans, sans-serif" font-size="11" fill="#0c0cf0" textLength="32.0" lengthAdjust="spacingAndGlyphs">159.20</text>
<line x1="701.0" y1="287.5" x2="711.0" y2="287.5" stroke="#0c0cf0" stroke-width="1"/><rect x="707.5" y="285.5" width="3" height="4" fill="#fff" stroke="#0c0cf0" stroke-width="1"/><rect x="711.5" y="282.0" width="35.0" height="11.0" fill="#fff" stroke="#0c0cf0" stroke-width="1"/><text x="713.0" y="291.0" font-family="Liberation Sans, sans-serif" font-size="11" fill="#0c0cf0" textLength="32.0" lengthAdjust="spacingAndGlyphs">157.60</text>
<line x1="692.5" y1="331.5" x2="703.0" y2="331.5" stroke="#f00c0c" stroke-width="1"/><rect x="699.5" y="329.5" width="3" height="4" fill="#fff" stroke="#f00c0c" stroke-width="1"/><rect x="703.5" y="325.5" width="35.0" height="11.5" fill="#fff" stroke="#f00c0c" stroke-width="1"/><text x="705.0" y="335.0" font-family="Liberation Sans, sans-serif" font-size="11" fill="#f00c0c" textLength="32.0" lengthAdjust="spacingAndGlyphs">155.85</text>
<line x1="696.5" y1="369.5" x2="707.0" y2="369.5" stroke="#f00c0c" stroke-width="1"/><rect x="703.5" y="367.5" width="3" height="4" fill="#fff" stroke="#f00c0c" stroke-width="1"/><rect x="707.5" y="363.5" width="35.0" height="11.5" fill="#fff" stroke="#f00c0c" stroke-width="1"/><text x="709.0" y="373.0" font-family="Liberation Sans, sans-serif" font-size="11" fill="#f00c0c" textLength="32.0" lengthAdjust="spacingAndGlyphs">154.35</text>
<line x1="701.0" y1="396.5" x2="711.0" y2="396.5" stroke="#f00c0c" stroke-width="1"/><rect x="707.5" y="394.5" width="3" height="4" fill="#fff" stroke="#f00c0c" stroke-width="1"/><rect x="711.5" y="390.5" width="35.0" height="11.5" fill="#fff" stroke="#f00c0c" stroke-width="1"/><text x="713.0" y="400.0" font-family="Liberation Sans, sans-serif" font-size="11" fill="#f00c0c" textLength="32.0" lengthAdjust="spacingAndGlyphs">153.25</text>
<line x1="297.0" y1="431.5" x2="307.0" y2="431.5" stroke="#0c0cf0" stroke-width="1"/><rect x="303.5" y="429.5" width="3" height="4" fill="#fff" stroke="#0c0cf0" stroke-width="1"/><rect x="307.5" y="425.5" width="35.0" height="12.0" fill="#fff" stroke="#0c0cf0" stroke-width="1"/><text x="309.0" y="435.5" font-family="Liberation Sans, sans-serif" font-size="11" fill="#0c0cf0" textLength="32.0" lengthAdjust="spacingAndGlyphs">151.85</text>
<line x1="705.0" y1="465.5" x2="715.0" y2="465.5" stroke="#f00c0c" stroke-width="1"/><rect x="711.5" y="463.5" width="3" height="4" fill="#fff" stroke="#f00c0c" stroke-width="1"/><rect x="715.5" y="460.0" width="35.0" height="11.0" fill="#fff" stroke="#f00c0c" stroke-width="1"/><text x="717.0" y="469.0" font-family="Liberation Sans, sans-serif" font-size="11" fill="#f00c0c" textLength="32.0" lengthAdjust="spacingAndGlyphs">150.50</text>
<line x1="713.0" y1="512.5" x2="723.0" y2="512.5" stroke="#f00c0c" stroke-width="1"/><rect x="719.5" y="510.5" width="3" height="4" fill="#fff" stroke="#f00c0c" stroke-width="1"/><rect x="723.5" y="507.0" width="34.0" height="11.0" fill="#fff" stroke="#f00c0c" stroke-width="1"/><text x="725.0" y="516.0" font-family="Liberation Sans, sans-serif" font-size="11" fill="#f00c0c" textLength="31.0" lengthAdjust="spacingAndGlyphs">148.65</text>
<line x1="716.0" y1="534.5" x2="727.0" y2="534.5" stroke="#f00c0c" stroke-width="1"/><rect x="723.5" y="532.5" width="3" height="4" fill="#fff" stroke="#f00c0c" stroke-width="1"/><rect x="727.5" y="529.0" width="34.0" height="11.0" fill="#fff" stroke="#f00c0c" stroke-width="1"/><text x="729.0" y="538.0" font-family="Liberation Sans, sans-serif" font-size="11" fill="#f00c0c" textLength="31.0" lengthAdjust="spacingAndGlyphs">147.75</text>
<line x1="725.5" y1="641.5" x2="735.5" y2="641.5" stroke="#f00c0c" stroke-width="1"/><rect x="732.0" y="639.5" width="3" height="4" fill="#fff" stroke="#f00c0c" stroke-width="1"/><rect x="736.0" y="636.5" width="34.0" height="10.5" fill="#fff" stroke="#f00c0c" stroke-width="1"/><text x="737.5" y="645.0" font-family="Liberation Sans, sans-serif" font-size="11" fill="#f00c0c" textLength="31.0" lengthAdjust="spacingAndGlyphs">143.52</text>
<line x1="729.0" y1="695.0" x2="737.0" y2="695.0" stroke="#f00c0c" stroke-width="1"/><rect x="733.5" y="693.0" width="3" height="4" fill="#fff" stroke="#f00c0c" stroke-width="1"/><rect x="737.5" y="689.5" width="36.0" height="10.5" fill="#fff" stroke="#f00c0c" stroke-width="1"/><text x="739.0" y="698.0" font-family="Liberation Sans, sans-serif" font-size="11" fill="#f00c0c" textLength="33.0" lengthAdjust="spacingAndGlyphs">141.41</text>
<line x1="738.5" y1="722.5" x2="747.0" y2="722.5" stroke="#f00c0c" stroke-width="1"/><rect x="743.5" y="720.5" width="3" height="4" fill="#fff" stroke="#f00c0c" stroke-width="1"/><rect x="747.5" y="717.5" width="34.0" height="10.5" fill="#fff" stroke="#f00c0c" stroke-width="1"/><text x="749.0" y="726.0" font-family="Liberation Sans, sans-serif" font-size="11" fill="#f00c0c" textLength="31.0" lengthAdjust="spacingAndGlyphs">140.27</text>
<line x1="106.5" y1="722.5" x2="116.0" y2="722.5" stroke="#f00c0c" stroke-width="1"/><rect x="71.0" y="717.0" width="35.0" height="11.0" fill="#fff" stroke="#f00c0c" stroke-width="1"/><text x="72.5" y="726.0" font-family="Liberation Sans, sans-serif" font-size="11" fill="#f00c0c" textLength="32.0" lengthAdjust="spacingAndGlyphs">140.27</text>
</g><g shape-rendering="crispEdges"><rect x="1224" y="4" width="43" height="771" fill="#f6f3f3"/><rect x="2" y="753" width="1265" height="22" fill="#f6f3f3"/><rect x="2" y="774" width="1265" height="1" fill="#808080"/><rect x="1266" y="4" width="1" height="771" fill="#808080"/><rect x="3" y="773" width="1263" height="1" fill="#868686"/><rect x="1265" y="5" width="1" height="769" fill="#868686"/><rect x="4" y="772" width="1261" height="1" fill="#888888"/><rect x="1264" y="6" width="1" height="767" fill="#888888"/><rect x="5" y="771" width="1259" height="1" fill="#929292"/><rect x="1263" y="7" width="1" height="765" fill="#929292"/><rect x="6" y="770" width="1257" height="1" fill="#989898"/><rect x="1262" y="8" width="1" height="763" fill="#989898"/><rect x="7" y="769" width="1255" height="1" fill="#9c9c9c"/><rect x="1261" y="9" width="1" height="761" fill="#9c9c9c"/><rect x="8" y="768" width="1253" height="1" fill="#a4a4a4"/><rect x="1260" y="10" width="1" height="759" fill="#a4a4a4"/><rect x="9" y="767" width="1251" height="1" fill="#a8a8a8"/><rect x="1259" y="11" width="1" height="757" fill="#a8a8a8"/><rect x="10" y="766" width="1249" height="1" fill="#acacac"/><rect x="1258" y="12" width="1" height="755" fill="#acacac"/><rect x="11" y="765" width="1247" height="1" fill="#b4b4b4"/><rect x="1257" y="13" width="1" height="753" fill="#b4b4b4"/><rect x="12" y="764" width="1245" height="1" fill="#b8b8b8"/><rect x="1256" y="14" width="1" height="751" fill="#b8b8b8"/><rect x="13" y="763" width="1243" height="1" fill="#bcbcbc"/><rect x="1255" y="15" width="1" height="749" fill="#bcbcbc"/><rect x="14" y="762" width="1241" height="1" fill="#c4c4c8"/><rect x="1254" y="16" width="1" height="747" fill="#c4c4c8"/><rect x="15" y="761" width="1239" height="1" fill="#c8c8cc"/><rect x="1253" y="17" width="1" height="745" fill="#c8c8cc"/><rect x="16" y="760" width="1237" height="1" fill="#ccccd0"/><rect x="1252" y="18" width="1" height="743" fill="#ccccd0"/><rect x="17" y="759" width="1235" height="1" fill="#d4d4d6"/><rect x="1251" y="19" width="1" height="741" fill="#d4d4d6"/><rect x="18" y="758" width="1233" height="1" fill="#d8d8da"/><rect x="1250" y="20" width="1" height="739" fill="#d8d8da"/><rect x="19" y="757" width="1231" height="1" fill="#dedee0"/><rect x="1249" y="21" width="1" height="737" fill="#dedee0"/><rect x="20" y="756" width="1229" height="1" fill="#e6e6ee"/><rect x="1248" y="22" width="1" height="735" fill="#e6e6ee"/><rect x="21" y="755" width="1227" height="1" fill="#eeeef2"/><rect x="1247" y="23" width="1" height="733" fill="#eeeef2"/><polygon points="2,4 1267,4 1262,9 7,9 7,770 2,775" fill="#fafbf8"/><rect x="0" y="0" width="1269" height="4" fill="#000"/><rect x="0" y="0" width="2" height="781" fill="#000"/><rect x="1267" y="0" width="2" height="781" fill="#000"/><rect x="0" y="775" width="1269" height="5" fill="#000"/><rect x="0" y="780" width="1269" height="1" fill="#9a9a9a"/><line x1="7" y1="9.5" x2="1224" y2="9.5" stroke="#707070" stroke-width="1" stroke-dasharray="2,1"/><line x1="7.5" y1="9" x2="7.5" y2="753" stroke="#707070" stroke-width="1" stroke-dasharray="2,1"/><rect x="1223" y="10" width="1" height="743" fill="#000"/><rect x="1222" y="10" width="3" height="279" fill="#000"/><rect x="8" y="752" width="1216" height="1" fill="#000"/></g><g shape-rendering="crispEdges"><rect x="1224" y="18" width="3" height="1" fill="#000"/><text x="1229.5" y="21.4" font-family="Liberation Sans, sans-serif" font-size="9.3" fill="#000" textLength="26.8" lengthAdjust="spacingAndGlyphs" stroke="#000" stroke-width="0.12">168.35</text>
<rect x="1224" y="51" width="3" height="1" fill="#000"/><text x="1229.5" y="54.6" font-family="Liberation Sans, sans-serif" font-size="9.3" fill="#000" textLength="26.8" lengthAdjust="spacingAndGlyphs" stroke="#000" stroke-width="0.12">167.05</text>
<rect x="1224" y="84" width="3" height="1" fill="#000"/><text x="1229.5" y="87.9" font-family="Liberation Sans, sans-serif" font-size="9.3" fill="#000" textLength="26.8" lengthAdjust="spacingAndGlyphs" stroke="#000" stroke-width="0.12">165.75</text>
<rect x="1224" y="118" width="3" height="1" fill="#000"/><text x="1229.5" y="121.2" font-family="Liberation Sans, sans-serif" font-size="9.3" fill="#000" textLength="26.8" lengthAdjust="spacingAndGlyphs" stroke="#000" stroke-width="0.12">164.40</text>
<rect x="1224" y="151" width="3" height="1" fill="#000"/><text x="1229.5" y="154.4" font-family="Liberation Sans, sans-serif" font-size="9.3" fill="#000" textLength="26.8" lengthAdjust="spacingAndGlyphs" stroke="#000" stroke-width="0.12">163.05</text>
<rect x="1224" y="184" width="3" height="1" fill="#000"/><text x="1229.5" y="187.7" font-family="Liberation Sans, sans-serif" font-size="9.3" fill="#000" textLength="26.8" lengthAdjust="spacingAndGlyphs" stroke="#000" stroke-width="0.12">161.70</text>
<rect x="1224" y="218" width="3" height="1" fill="#000"/><text x="1229.5" y="220.9" font-family="Liberation Sans, sans-serif" font-size="9.3" fill="#000" textLength="26.8" lengthAdjust="spacingAndGlyphs" stroke="#000" stroke-width="0.12">160.40</text>
<rect x="1224" y="251" width="3" height="1" fill="#000"/><text x="1229.5" y="254.2" font-family="Liberation Sans, sans-serif" font-size="9.3" fill="#000" textLength="26.8" lengthAdjust="spacingAndGlyphs" stroke="#000" stroke-width="0.12">159.10</text>
<rect x="1224" y="284" width="3" height="1" fill="#000"/><text x="1229.5" y="287.4" font-family="Liberation Sans, sans-serif" font-size="9.3" fill="#000" textLength="26.8" lengthAdjust="spacingAndGlyphs" stroke="#000" stroke-width="0.12">157.75</text>
<rect x="1224" y="317" width="3" height="1" fill="#000"/><rect x="1224" y="350" width="3" height="1" fill="#000"/><text x="1229.5" y="353.9" font-family="Liberation Sans, sans-serif" font-size="9.3" fill="#000" textLength="26.8" lengthAdjust="spacingAndGlyphs" stroke="#000" stroke-width="0.12">155.10</text>
<rect x="1224" y="384" width="3" height="1" fill="#000"/><text x="1229.5" y="387.1" font-family="Liberation Sans, sans-serif" font-size="9.3" fill="#000" textLength="26.8" lengthAdjust="spacingAndGlyphs" stroke="#000" stroke-width="0.12">153.80</text>
<rect x="1224" y="417" width="3" height="1" fill="#000"/><text x="1229.5" y="420.4" font-family="Liberation Sans, sans-serif" font-size="9.3" fill="#000" textLength="26.8" lengthAdjust="spacingAndGlyphs" stroke="#000" stroke-width="0.12">152.45</text>
<rect x="1224" y="450" width="3" height="1" fill="#000"/><text x="1229.5" y="453.6" font-family="Liberation Sans, sans-serif" font-size="9.3" fill="#000" textLength="26.8" lengthAdjust="spacingAndGlyphs" stroke="#000" stroke-width="0.12">151.10</text>
<rect x="1224" y="484" width="3" height="1" fill="#000"/><text x="1229.5" y="486.9" font-family="Liberation Sans, sans-serif" font-size="9.3" fill="#000" textLength="26.8" lengthAdjust="spacingAndGlyphs" stroke="#000" stroke-width="0.12">149.80</text>
<rect x="1224" y="517" width="3" height="1" fill="#000"/><text x="1229.5" y="520.1" font-family="Liberation Sans, sans-serif" font-size="9.3" fill="#000" textLength="26.8" lengthAdjust="spacingAndGlyphs" stroke="#000" stroke-width="0.12">148.50</text>
<rect x="1224" y="550" width="3" height="1" fill="#000"/><text x="1229.5" y="553.4" font-family="Liberation Sans, sans-serif" font-size="9.3" fill="#000" textLength="26.8" lengthAdjust="spacingAndGlyphs" stroke="#000" stroke-width="0.12">147.15</text>
<rect x="1224" y="583" width="3" height="1" fill="#000"/><text x="1229.5" y="586.6" font-family="Liberation Sans, sans-serif" font-size="9.3" fill="#000" textLength="26.8" lengthAdjust="spacingAndGlyphs" stroke="#000" stroke-width="0.12">145.80</text>
<rect x="1224" y="616" width="3" height="1" fill="#000"/><text x="1229.5" y="619.9" font-family="Liberation Sans, sans-serif" font-size="9.3" fill="#000" textLength="26.8" lengthAdjust="spacingAndGlyphs" stroke="#000" stroke-width="0.12">144.50</text>
<rect x="1224" y="650" width="3" height="1" fill="#000"/><text x="1229.5" y="653.1" font-family="Liberation Sans, sans-serif" font-size="9.3" fill="#000" textLength="26.8" lengthAdjust="spacingAndGlyphs" stroke="#000" stroke-width="0.12">143.20</text>
<rect x="1224" y="683" width="3" height="1" fill="#000"/><text x="1229.5" y="686.4" font-family="Liberation Sans, sans-serif" font-size="9.3" fill="#000" textLength="26.8" lengthAdjust="spacingAndGlyphs" stroke="#000" stroke-width="0.12">141.85</text>
<rect x="1224" y="716" width="3" height="1" fill="#000"/><text x="1229.5" y="719.6" font-family="Liberation Sans, sans-serif" font-size="9.3" fill="#000" textLength="26.8" lengthAdjust="spacingAndGlyphs" stroke="#000" stroke-width="0.12">140.50</text>
<rect x="1224" y="750" width="3" height="1" fill="#000"/><text x="1229.5" y="752.9" font-family="Liberation Sans, sans-serif" font-size="9.3" fill="#000" textLength="26.8" lengthAdjust="spacingAndGlyphs" stroke="#000" stroke-width="0.12">139.20</text>
<rect x="1225" y="312" width="35" height="11" fill="#000"/><text x="1228" y="321" font-family="Liberation Sans, sans-serif" font-size="10" fill="#fff" textLength="28" lengthAdjust="spacingAndGlyphs" >156.42</text>
<rect x="8" y="753" width="1" height="4" fill="#000"/><text x="8" y="765" font-family="Liberation Sans, sans-serif" font-size="9.5" fill="#000" textLength="52.5" lengthAdjust="spacingAndGlyphs" stroke="#000" stroke-width="0.12">20 Nov 2023</text>
<rect x="72" y="753" width="1" height="4" fill="#000"/><text x="72" y="765" font-family="Liberation Sans, sans-serif" font-size="9.5" fill="#000" textLength="51" lengthAdjust="spacingAndGlyphs" stroke="#000" stroke-width="0.12">12 Dec 2023</text>
<rect x="136" y="753" width="1" height="4" fill="#000"/><text x="136" y="765" font-family="Liberation Sans, sans-serif" font-size="9.5" fill="#000" textLength="44.5" lengthAdjust="spacingAndGlyphs" stroke="#000" stroke-width="0.12">5 Jan 2024</text>
<rect x="200" y="753" width="1" height="4" fill="#000"/><text x="200" y="765" font-family="Liberation Sans, sans-serif" font-size="9.5" fill="#000" textLength="49" lengthAdjust="spacingAndGlyphs" stroke="#000" stroke-width="0.12">29 Jan 2024</text>
<rect x="264" y="753" width="1" height="4" fill="#000"/><text x="264" y="765" font-family="Liberation Sans, sans-serif" font-size="9.5" fill="#000" textLength="51" lengthAdjust="spacingAndGlyphs" stroke="#000" stroke-width="0.12">20 Feb 2024</text>
<rect x="328" y="753" width="1" height="4" fill="#000"/><text x="328" y="765" font-family="Liberation Sans, sans-serif" font-size="9.5" fill="#000" textLength="51" lengthAdjust="spacingAndGlyphs" stroke="#000" stroke-width="0.12">13 Mar 2024</text>
<rect x="392" y="753" width="1" height="4" fill="#000"/><text x="392" y="765" font-family="Liberation Sans, sans-serif" font-size="9.5" fill="#000" textLength="45" lengthAdjust="spacingAndGlyphs" stroke="#000" stroke-width="0.12">4 Apr 2024</text>
<rect x="456" y="753" width="1" height="4" fill="#000"/><text x="456" y="765" font-family="Liberation Sans, sans-serif" font-size="9.5" fill="#000" textLength="48" lengthAdjust="spacingAndGlyphs" stroke="#000" stroke-width="0.12">26 Apr 2024</text>
<rect x="520" y="753" width="1" height="4" fill="#000"/><text x="520" y="765" font-family="Liberation Sans, sans-serif" font-size="9.5" fill="#000" textLength="54" lengthAdjust="spacingAndGlyphs" stroke="#000" stroke-width="0.12">20 May 2024</text>
<rect x="584" y="753" width="1" height="4" fill="#000"/><text x="584" y="765" font-family="Liberation Sans, sans-serif" font-size="9.5" fill="#000" textLength="49" lengthAdjust="spacingAndGlyphs" stroke="#000" stroke-width="0.12">11 Jun 2024</text>
<rect x="648" y="753" width="1" height="4" fill="#000"/><text x="648" y="765" font-family="Liberation Sans, sans-serif" font-size="9.5" fill="#000" textLength="45" lengthAdjust="spacingAndGlyphs" stroke="#000" stroke-width="0.12">3 Jul 2024</text>
<rect x="652" y="756" width="80" height="11" fill="#000"/><text x="654" y="765" font-family="Liberation Sans, sans-serif" font-size="10" fill="#fff" textLength="76" lengthAdjust="spacingAndGlyphs" >2024.07.18 00:00</text>
</g></svg>
</body></html>
